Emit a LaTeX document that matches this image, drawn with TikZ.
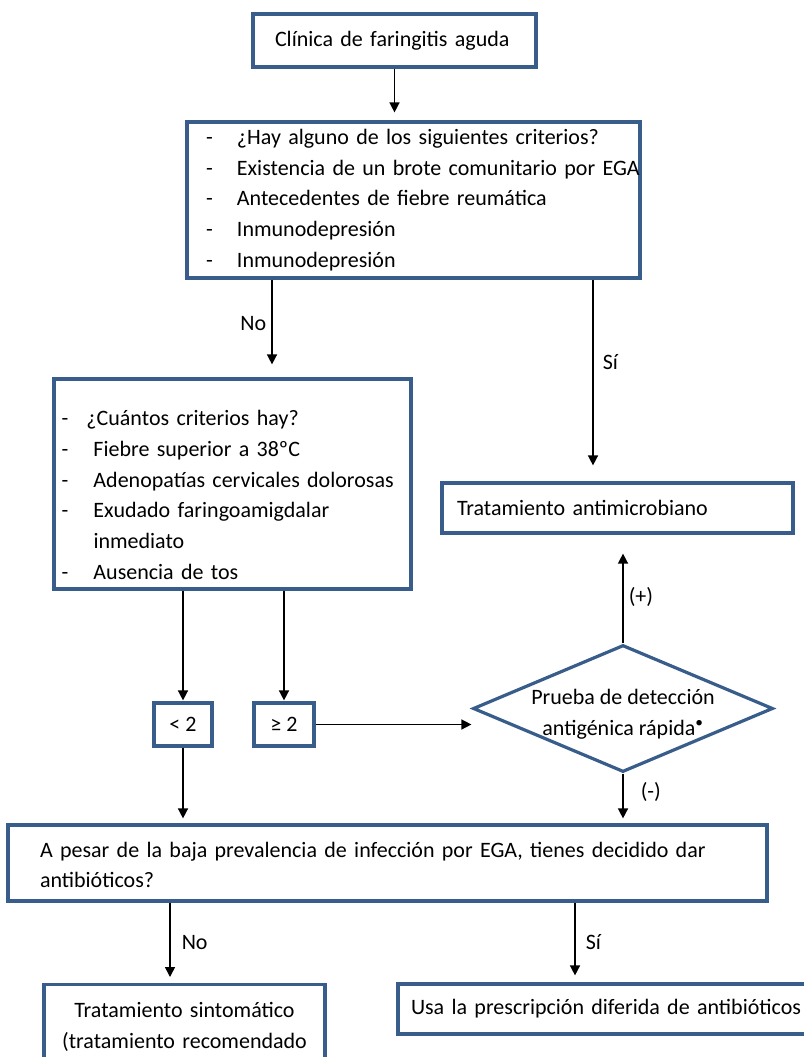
\documentclass[tikz,border=0pt]{standalone}
\usepackage{fontspec}
\setmainfont{Carlito}
\usetikzlibrary{arrows.meta,shapes.geometric}
\definecolor{cajaazul}{RGB}{56,93,138}
\newcommand{\guion}[2][31pt]{\makebox[#1][l]{-}\mbox{#2}}

\begin{document}
\begin{tikzpicture}[
    x=1pt, y=-1pt,
    font=\fontsize{22}{30.7}\selectfont,
    >={Triangle[width=10pt,length=10pt]},
    box/.style={draw=cajaazul, line width=3.2pt, align=left, inner sep=0pt},
    smallbox/.style={draw=cajaazul, line width=3.2pt, align=center, inner sep=0pt, minimum width=58pt, minimum height=43pt},
    decision/.style={draw=cajaazul, line width=3.2pt, diamond, align=center, aspect=2.36, inner xsep=-30pt, inner ysep=-10pt, minimum width=300pt, minimum height=127pt},
    etiqueta/.style={inner sep=5pt},
    arrow/.style={->, line width=1.5pt}
]
\path[use as bounding box, fill=white] (0,0) rectangle (803,1057);

% ===================== PARTE SUPERIOR =====================
\node[box, text width=239pt, minimum width=283pt, minimum height=53pt] (clin) at (394.5,40.5)
{Clínica de faringitis aguda};

\node[box, text width=415pt, minimum width=453pt, minimum height=156pt] (crit) at (413.5,200)
{\guion{¿Hay alguno de los siguientes criterios?}\\
 \guion{Existencia de un brote comunitario por EGA}\\
 \guion{Antecedentes de fiebre reumática}\\
 \guion{Inmunodepresión}\\
 \guion{Inmunodepresión}};

% ===================== CRITERIOS =====================
\node[box, text width=342pt, minimum width=357pt, minimum height=210pt] (cuant) at (232.5,484)
{\rule{0pt}{37pt}\guion[25pt]{¿Cuántos criterios hay?}\\
 \guion[32pt]{Fiebre superior a 38ºC}\\
 \guion[32pt]{Adenopatías cervicales dolorosas}\\
 \guion[32pt]{Exudado faringoamigdalar}\\
 \hspace*{32pt}inmediato\\
 \guion[32pt]{Ausencia de tos}};

\node[box, text width=321pt, minimum width=351pt, minimum height=50pt] (antimic) at (617.5,508)
{Tratamiento antimicrobiano};

\node[smallbox] (menos) at (183,724.5) {< 2};
\node[smallbox, minimum width=60pt] (mayor) at (284,724.5) {≥ 2};

\node[decision] (prueba) at (623,708.5)
{\rule{0pt}{27pt}Prueba de detección\\antigénica rápida\textsuperscript{•}};

% ===================== PARTE INFERIOR =====================
\node[box, text width=695pt, minimum width=759pt, minimum height=76pt] (pesar) at (387.5,863)
{\rule{0pt}{19pt}A pesar de la baja prevalencia de infección por EGA, tienes decidido dar\\
 antibióticos?};

\node[box, align=center, text width=281pt, inner ysep=18pt, anchor=north] (sinto) at (184.5,983)
{Tratamiento sintomático\\(tratamiento recomendado};

\node[box, text width=406pt, minimum width=432pt, minimum height=50pt] (usa) at (614,1009)
{Usa la prescripción diferida de antibióticos};

% ===================== FLECHAS =====================
\draw[arrow, shorten >=8pt] (clin.south) -- (clin.south |- crit.north);

\draw[arrow, shorten >=13pt] ([xshift=-141.5pt]crit.south) -- ([xshift=-141.5pt]crit.south |- cuant.north)
    node[etiqueta, pos=.45, left] {No};
\draw[arrow, shorten >=16pt] ([xshift=-24.5pt]antimic.north |- crit.south) -- ([xshift=-24.5pt]antimic.north)
    node[etiqueta, pos=.41, right, xshift=4pt] {Sí};

\draw[arrow, shorten >=1pt] (menos.north |- cuant.south) -- (menos.north);
\draw[arrow, shorten >=1pt] (mayor.north |- cuant.south) -- (mayor.north);
\draw[arrow] (mayor.east) -- (mayor.east -| prueba.west);

\draw[arrow, shorten >=19pt] (prueba.north) -- (prueba.north |- antimic.south)
    node[etiqueta, pos=.43, right] {(+)};
\draw[arrow, shorten >=5pt] (prueba.south) -- (prueba.south |- pesar.north)
    node[etiqueta, pos=.375, right, xshift=12pt] {(-)};
\draw[arrow, shorten >=5pt] (menos.south) -- (menos.south |- pesar.north);

\draw[arrow, shorten >=6pt] ([xshift=-14.5pt]sinto.north |- pesar.south) -- ([xshift=-14.5pt]sinto.north)
    node[etiqueta, pos=.5, right, xshift=6pt] {No};
\draw[arrow, shorten >=7pt] ([xshift=-39pt]usa.north |- pesar.south) -- ([xshift=-39pt]usa.north)
    node[etiqueta, pos=.5, right, xshift=5pt] {Sí};

\end{tikzpicture}
\end{document}
